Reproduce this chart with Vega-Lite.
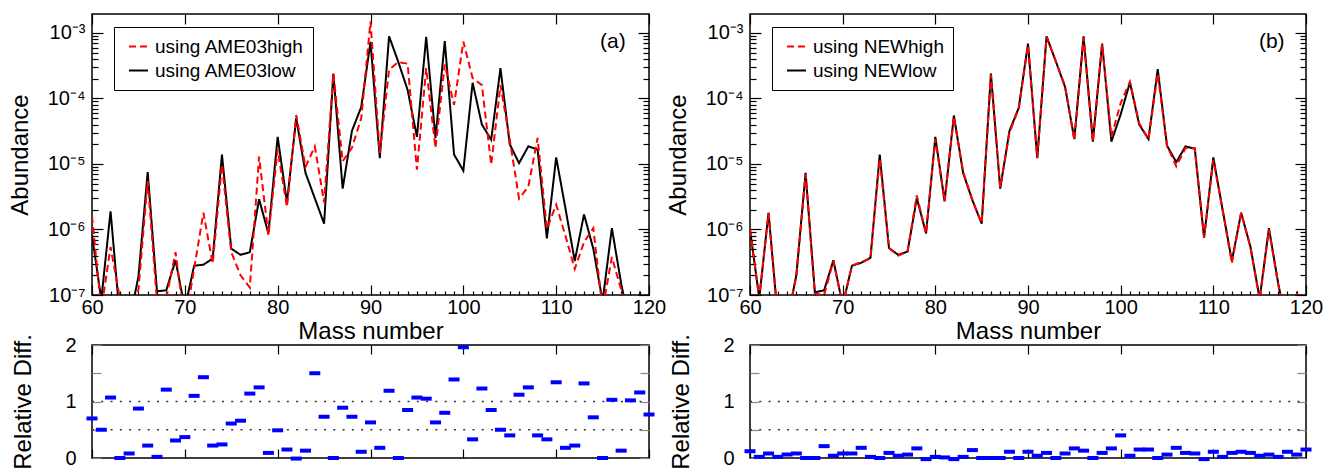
{
  "$schema": "https://vega.github.io/schema/vega-lite/v6.json",
  "background": "white",
  "padding": {"left": 7, "top": 12, "right": 5, "bottom": 0},
  "config": {
    "font": "Liberation Sans",
    "view": {"stroke": "black", "strokeWidth": 1.5},
    "axis": {"domain": false, "grid": false, "labelFont": "Liberation Sans", "titleFont": "Liberation Sans", "labelColor": "black", "titleColor": "black", "titleFontWeight": "normal", "labelFontSize": 20, "titleFontSize": 24, "tickColor": "black", "tickWidth": 1.2, "labelFlush": false, "labelOverlap": false},
    "legend": {"orient": "none", "legendX": 22, "legendY": 13, "strokeColor": "black", "fillColor": "white", "padding": 9, "rowPadding": 3, "symbolType": "stroke", "symbolSize": 361, "symbolStrokeWidth": 2, "symbolOffset": 5, "labelOffset": 6, "labelFontSize": 19, "labelFont": "Liberation Sans", "labelColor": "black", "cornerRadius": 0, "labelLimit": 400}
  },
  "datasets": {
    "a_top": [
      {"A":60,"low":8.2e-7,"high":1.6e-6},{"A":61,"low":8.5e-8,"high":6e-8},{"A":62,"low":1.9e-6,"high":5.4e-7},{"A":63,"low":4.5e-8,"high":9e-8},{"A":64,"low":3.8e-8,"high":4e-8},
      {"A":65,"low":1.9e-7,"high":1.2e-7},{"A":66,"low":7.5e-6,"high":5.5e-6},{"A":67,"low":1.14e-7,"high":8e-8},{"A":68,"low":1.18e-7,"high":9e-8},{"A":69,"low":3.4e-7,"high":4.5e-7},
      {"A":70,"low":6.2e-8,"high":3.6e-8},{"A":71,"low":2.8e-7,"high":2.5e-7},{"A":72,"low":2.9e-7,"high":1.8e-6},{"A":73,"low":3.6e-7,"high":3.0e-7},{"A":74,"low":1.39e-5,"high":9.8e-6},
      {"A":75,"low":5.1e-7,"high":4.5e-7},{"A":76,"low":4.1e-7,"high":2.0e-7},{"A":77,"low":4.5e-7,"high":1.3e-7},{"A":78,"low":2.9e-6,"high":1.3e-5},{"A":79,"low":8.7e-7,"high":8.2e-7},
      {"A":80,"low":2.6e-5,"high":1.66e-5},{"A":81,"low":2.6e-6,"high":2.2e-6},{"A":82,"low":5.0e-5,"high":5.6e-5},{"A":83,"low":7.3e-6,"high":9e-6},{"A":84,"low":3.0e-6,"high":1.86e-5},
      {"A":85,"low":1.23e-6,"high":2.6e-6},{"A":86,"low":2.4e-4,"high":2.4e-4},{"A":87,"low":4.2e-6,"high":1.1e-5},{"A":88,"low":3.2e-5,"high":1.76e-5},{"A":89,"low":7.4e-5,"high":5e-5},
      {"A":90,"low":7.3e-4,"high":1.5e-3},{"A":91,"low":1.23e-5,"high":1.47e-5},{"A":92,"low":8.9e-4,"high":2.75e-4},{"A":93,"low":3.6e-4,"high":3.6e-4},{"A":94,"low":1.35e-4,"high":3.4e-4},
      {"A":95,"low":2.6e-5,"high":8.2e-6},{"A":96,"low":8.7e-4,"high":2.9e-4},{"A":97,"low":2.5e-5,"high":1.76e-5},{"A":98,"low":7.5e-4,"high":3.3e-4},{"A":99,"low":1.4e-5,"high":8e-5},
      {"A":100,"low":7.9e-6,"high":7.4e-4},{"A":101,"low":1.74e-4,"high":2.05e-4},{"A":102,"low":4.0e-5,"high":1.6e-4},{"A":103,"low":2.35e-5,"high":9.8e-6},{"A":104,"low":2.9e-4,"high":1.6e-4},
      {"A":105,"low":2.0e-5,"high":2.35e-5},{"A":106,"low":1.03e-5,"high":2.97e-6},{"A":107,"low":1.86e-5,"high":4.5e-6},{"A":108,"low":1.66e-5,"high":2.5e-5},{"A":109,"low":7.3e-7,"high":1.03e-6},
      {"A":110,"low":1.26e-5,"high":2.4e-6},{"A":111,"low":2.1e-6,"high":8e-7},{"A":112,"low":3.3e-7,"high":2.5e-7},{"A":113,"low":1.7e-6,"high":6.4e-7},{"A":114,"low":5.1e-7,"high":1.05e-6},
      {"A":115,"low":8e-8,"high":6e-8},{"A":116,"low":1.05e-6,"high":3.8e-7},{"A":117,"low":1.5e-7,"high":1.2e-7},{"A":118,"low":3e-8,"high":3e-8},{"A":119,"low":1.02e-7,"high":3e-8},
      {"A":120,"low":3e-8,"high":2e-8}
    ],
    "b_top": [
      {"A":60,"low":1e-6,"high":1e-6},{"A":61,"low":9e-8,"high":9e-8},{"A":62,"low":1.8e-6,"high":1.8e-6},{"A":63,"low":4.5e-8,"high":4.5e-8},{"A":64,"low":3.8e-8,"high":3.8e-8},
      {"A":65,"low":2e-7,"high":2e-7},{"A":66,"low":7.3e-6,"high":7.0e-6},{"A":67,"low":1.1e-7,"high":1.05e-7},{"A":68,"low":1.18e-7,"high":1.0e-7},{"A":69,"low":3.4e-7,"high":3.3e-7},
      {"A":70,"low":7e-8,"high":7e-8},{"A":71,"low":2.8e-7,"high":2.8e-7},{"A":72,"low":3.1e-7,"high":3.2e-7},{"A":73,"low":3.7e-7,"high":3.6e-7},{"A":74,"low":1.39e-5,"high":1.2e-5},
      {"A":75,"low":5.2e-7,"high":5.2e-7},{"A":76,"low":4.1e-7,"high":4.0e-7},{"A":77,"low":4.6e-7,"high":4.6e-7},{"A":78,"low":3.0e-6,"high":3.3e-6},{"A":79,"low":8.7e-7,"high":8.7e-7},
      {"A":80,"low":2.6e-5,"high":2.4e-5},{"A":81,"low":2.7e-6,"high":2.7e-6},{"A":82,"low":5.5e-5,"high":5.3e-5},{"A":83,"low":7.3e-6,"high":7.6e-6},{"A":84,"low":2.8e-6,"high":2.8e-6},
      {"A":85,"low":1.23e-6,"high":1.25e-6},{"A":86,"low":2.4e-4,"high":2.3e-4},{"A":87,"low":4.2e-6,"high":4.4e-6},{"A":88,"low":3.2e-5,"high":3.0e-5},{"A":89,"low":7.2e-5,"high":7.0e-5},
      {"A":90,"low":6.9e-4,"high":6.5e-4},{"A":91,"low":1.23e-5,"high":1.25e-5},{"A":92,"low":8.9e-4,"high":8.7e-4},{"A":93,"low":3.7e-4,"high":3.7e-4},{"A":94,"low":1.5e-4,"high":1.55e-4},
      {"A":95,"low":2.4e-5,"high":2.3e-5},{"A":96,"low":8.9e-4,"high":8.5e-4},{"A":97,"low":2.2e-5,"high":2.2e-5},{"A":98,"low":6.9e-4,"high":6.7e-4},{"A":99,"low":2.2e-5,"high":2.6e-5},
      {"A":100,"low":5.7e-5,"high":8.5e-5},{"A":101,"low":1.76e-4,"high":1.8e-4},{"A":102,"low":4e-5,"high":4.2e-5},{"A":103,"low":2.4e-5,"high":2.4e-5},{"A":104,"low":2.8e-4,"high":2.4e-4},
      {"A":105,"low":1.9e-5,"high":1.9e-5},{"A":106,"low":1.07e-5,"high":9.2e-6},{"A":107,"low":1.86e-5,"high":1.75e-5},{"A":108,"low":1.7e-5,"high":1.75e-5},{"A":109,"low":7.5e-7,"high":7.6e-7},
      {"A":110,"low":1.26e-5,"high":1.15e-5},{"A":111,"low":2e-6,"high":2e-6},{"A":112,"low":3.3e-7,"high":3.1e-7},{"A":113,"low":1.8e-6,"high":1.8e-6},{"A":114,"low":5.5e-7,"high":5.3e-7},
      {"A":115,"low":8.8e-8,"high":8.5e-8},{"A":116,"low":1.05e-6,"high":1.0e-6},{"A":117,"low":1.5e-7,"high":1.45e-7},{"A":118,"low":3e-8,"high":3e-8},{"A":119,"low":1.02e-7,"high":1.0e-7},
      {"A":120,"low":3e-8,"high":3e-8}
    ],
    "a_diff": [
      {"A":60,"d":0.70},{"A":61,"d":0.50},{"A":62,"d":1.07},{"A":63,"d":0.0},{"A":64,"d":0.08},{"A":65,"d":0.875},{"A":66,"d":0.22},{"A":67,"d":0.02},{"A":68,"d":1.21},{"A":69,"d":0.31},
      {"A":70,"d":0.37},{"A":71,"d":1.10},{"A":72,"d":1.43},{"A":73,"d":0.22},{"A":74,"d":0.24},{"A":75,"d":0.61},{"A":76,"d":0.66},{"A":77,"d":1.14},{"A":78,"d":1.25},{"A":79,"d":0.09},
      {"A":80,"d":0.49},{"A":81,"d":0.15},{"A":82,"d":-0.01},{"A":83,"d":0.13},{"A":84,"d":1.50},{"A":85,"d":0.73},{"A":86,"d":0.0},{"A":87,"d":0.89},{"A":88,"d":0.73},{"A":89,"d":0.11},
      {"A":90,"d":0.63},{"A":91,"d":0.18},{"A":92,"d":1.19},{"A":93,"d":0.0},{"A":94,"d":0.85},{"A":95,"d":1.07},{"A":96,"d":1.05},{"A":97,"d":0.63},{"A":98,"d":0.80},{"A":99,"d":1.39},
      {"A":100,"d":1.96},{"A":101,"d":0.33},{"A":102,"d":1.23},{"A":103,"d":0.85},{"A":104,"d":0.50},{"A":105,"d":0.40},{"A":106,"d":1.12},{"A":107,"d":1.25},{"A":108,"d":0.40},{"A":109,"d":0.33},
      {"A":110,"d":1.34},{"A":111,"d":0.18},{"A":112,"d":0.22},{"A":113,"d":1.32},{"A":114,"d":0.72},{"A":115,"d":0.0},{"A":116,"d":1.03},{"A":117,"d":0.13},{"A":118,"d":1.02},{"A":119,"d":1.16},
      {"A":120,"d":0.77}
    ],
    "b_diff": [
      {"A":60,"d":0.12},{"A":61,"d":0.02},{"A":62,"d":0.08},{"A":63,"d":0.02},{"A":64,"d":0.06},{"A":65,"d":0.08},{"A":66,"d":0.0},{"A":67,"d":0.0},{"A":68,"d":0.21},{"A":69,"d":0.04},
      {"A":70,"d":0.08},{"A":71,"d":0.08},{"A":72,"d":0.18},{"A":73,"d":0.02},{"A":74,"d":0.0},{"A":75,"d":0.09},{"A":76,"d":0.04},{"A":77,"d":0.06},{"A":78,"d":0.17},{"A":79,"d":-0.02},
      {"A":80,"d":0.02},{"A":81,"d":0.01},{"A":82,"d":-0.02},{"A":83,"d":0.02},{"A":84,"d":0.14},{"A":85,"d":0.0},{"A":86,"d":0.0},{"A":87,"d":0.0},{"A":88,"d":0.11},{"A":89,"d":0.0},
      {"A":90,"d":0.11},{"A":91,"d":0.04},{"A":92,"d":0.09},{"A":93,"d":0.0},{"A":94,"d":0.08},{"A":95,"d":0.17},{"A":96,"d":0.13},{"A":97,"d":0.0},{"A":98,"d":0.09},{"A":99,"d":0.17},
      {"A":100,"d":0.40},{"A":101,"d":0.04},{"A":102,"d":0.15},{"A":103,"d":0.15},{"A":104,"d":0.0},{"A":105,"d":0.06},{"A":106,"d":0.18},{"A":107,"d":0.09},{"A":108,"d":0.08},{"A":109,"d":-0.02},
      {"A":110,"d":0.11},{"A":111,"d":0.02},{"A":112,"d":0.09},{"A":113,"d":0.11},{"A":114,"d":0.09},{"A":115,"d":0.04},{"A":116,"d":0.06},{"A":117,"d":0.02},{"A":118,"d":0.11},{"A":119,"d":0.06},
      {"A":120,"d":0.15}
    ]
  },
  "bounds": "flush",
  "columns": 2,
  "spacing": {"row": 50, "column": 101},
  "resolve": {"scale": {"x": "independent", "y": "independent", "color": "independent", "strokeDash": "independent"}, "legend": {"color": "independent", "strokeDash": "independent"}},
  "concat": [
    {
      "width": 557, "height": 281,
      "data": {"name": "a_top"},
      "resolve": {"axis": {"x": "independent", "y": "independent"}},
      "layer": [
        {
          "mark": {"type": "line", "clip": true, "strokeWidth": 2},
          "encoding": {
            "x": {"field": "A", "type": "quantitative", "scale": {"domain": [60, 120], "nice": false, "zero": false},
                  "axis": {"orient": "bottom", "values": [60,61,62,63,64,65,66,67,68,69,70,71,72,73,74,75,76,77,78,79,80,81,82,83,84,85,86,87,88,89,90,91,92,93,94,95,96,97,98,99,100,101,102,103,104,105,106,107,108,109,110,111,112,113,114,115,116,117,118,119,120],
                           "tickSize": {"condition": {"test": "datum.value % 10 == 0", "value": -10}, "value": -4},
                           "labelExpr": "datum.value % 10 == 0 ? datum.label : ''",
                           "labelPadding": 12, "title": "Mass number", "titlePadding": -4}},
            "y": {"field": "low", "type": "quantitative", "scale": {"type": "log", "domain": [1e-7, 1.95e-3], "nice": false},
                  "axis": {"orient": "left", "values": [1e-7,2e-7,3e-7,4e-7,5e-7,6e-7,7e-7,8e-7,9e-7,1e-6,2e-6,3e-6,4e-6,5e-6,6e-6,7e-6,8e-6,9e-6,1e-5,2e-5,3e-5,4e-5,5e-5,6e-5,7e-5,8e-5,9e-5,1e-4,2e-4,3e-4,4e-4,5e-4,6e-4,7e-4,8e-4,9e-4,1e-3],
                           "tickSize": {"condition": {"test": "abs(log(datum.value)/LN10 - round(log(datum.value)/LN10)) < 0.001", "value": -11}, "value": -6},
                           "labelExpr": "abs(log(datum.value)/LN10 - round(log(datum.value)/LN10)) < 0.001 ? '10' + '⁻' + ['⁰','¹','²','³','⁴','⁵','⁶','⁷','⁸','⁹'][-round(log(datum.value)/LN10)] : ''",
                           "labelPadding": 18, "title": "Abundance", "titlePadding": 15}},
            "color": {"datum": "using AME03low", "type": "nominal", "scale": {"domain": ["using AME03high", "using AME03low"], "range": ["#ff0000", "#000000"]}, "legend": {"title": null}},
            "strokeDash": {"datum": "using AME03low", "type": "nominal", "scale": {"domain": ["using AME03high", "using AME03low"], "range": [[7, 4], [1, 0]]}, "legend": {"title": null}}
          }
        },
        {
          "mark": {"type": "line", "clip": true, "strokeWidth": 2},
          "encoding": {
            "x": {"field": "A", "type": "quantitative", "axis": {"orient": "top", "values": [60,70,80,90,100,110,120], "tickSize": -10, "labels": false, "title": null}},
            "y": {"field": "high", "type": "quantitative",
                  "axis": {"orient": "right", "values": [1e-7,2e-7,3e-7,4e-7,5e-7,6e-7,7e-7,8e-7,9e-7,1e-6,2e-6,3e-6,4e-6,5e-6,6e-6,7e-6,8e-6,9e-6,1e-5,2e-5,3e-5,4e-5,5e-5,6e-5,7e-5,8e-5,9e-5,1e-4,2e-4,3e-4,4e-4,5e-4,6e-4,7e-4,8e-4,9e-4,1e-3],
                           "tickSize": {"condition": {"test": "abs(log(datum.value)/LN10 - round(log(datum.value)/LN10)) < 0.001", "value": -11}, "value": -6},
                           "labels": false, "title": null}},
            "color": {"datum": "using AME03high", "type": "nominal", "legend": {"title": null}},
            "strokeDash": {"datum": "using AME03high", "type": "nominal", "legend": {"title": null}}
          }
        },
        {
          "data": {"values": [{"t": "(a)"}]},
          "mark": {"type": "text", "fontSize": 21, "font": "Liberation Sans", "color": "black"},
          "encoding": {
            "x": {"datum": 116.1, "type": "quantitative", "axis": null},
            "y": {"datum": 7.2e-4, "type": "quantitative", "axis": null},
            "text": {"field": "t", "type": "nominal"}
          }
        }
      ]
    },
    {
      "width": 556, "height": 281,
      "data": {"name": "b_top"},
      "resolve": {"axis": {"x": "independent", "y": "independent"}},
      "layer": [
        {
          "mark": {"type": "line", "clip": true, "strokeWidth": 2},
          "encoding": {
            "x": {"field": "A", "type": "quantitative", "scale": {"domain": [60, 120], "nice": false, "zero": false},
                  "axis": {"orient": "bottom", "values": [60,61,62,63,64,65,66,67,68,69,70,71,72,73,74,75,76,77,78,79,80,81,82,83,84,85,86,87,88,89,90,91,92,93,94,95,96,97,98,99,100,101,102,103,104,105,106,107,108,109,110,111,112,113,114,115,116,117,118,119,120],
                           "tickSize": {"condition": {"test": "datum.value % 10 == 0", "value": -10}, "value": -4},
                           "labelExpr": "datum.value % 10 == 0 ? datum.label : ''",
                           "labelPadding": 12, "title": "Mass number", "titlePadding": -4}},
            "y": {"field": "low", "type": "quantitative", "scale": {"type": "log", "domain": [1e-7, 1.95e-3], "nice": false},
                  "axis": {"orient": "left", "values": [1e-7,2e-7,3e-7,4e-7,5e-7,6e-7,7e-7,8e-7,9e-7,1e-6,2e-6,3e-6,4e-6,5e-6,6e-6,7e-6,8e-6,9e-6,1e-5,2e-5,3e-5,4e-5,5e-5,6e-5,7e-5,8e-5,9e-5,1e-4,2e-4,3e-4,4e-4,5e-4,6e-4,7e-4,8e-4,9e-4,1e-3],
                           "tickSize": {"condition": {"test": "abs(log(datum.value)/LN10 - round(log(datum.value)/LN10)) < 0.001", "value": -11}, "value": -6},
                           "labelExpr": "abs(log(datum.value)/LN10 - round(log(datum.value)/LN10)) < 0.001 ? '10' + '⁻' + ['⁰','¹','²','³','⁴','⁵','⁶','⁷','⁸','⁹'][-round(log(datum.value)/LN10)] : ''",
                           "labelPadding": 18, "title": "Abundance", "titlePadding": 15}},
            "color": {"datum": "using NEWlow", "type": "nominal", "scale": {"domain": ["using NEWhigh", "using NEWlow"], "range": ["#ff0000", "#000000"]}, "legend": {"title": null}},
            "strokeDash": {"datum": "using NEWlow", "type": "nominal", "scale": {"domain": ["using NEWhigh", "using NEWlow"], "range": [[7, 4], [1, 0]]}, "legend": {"title": null}}
          }
        },
        {
          "mark": {"type": "line", "clip": true, "strokeWidth": 2},
          "encoding": {
            "x": {"field": "A", "type": "quantitative", "axis": {"orient": "top", "values": [60,70,80,90,100,110,120], "tickSize": -10, "labels": false, "title": null}},
            "y": {"field": "high", "type": "quantitative",
                  "axis": {"orient": "right", "values": [1e-7,2e-7,3e-7,4e-7,5e-7,6e-7,7e-7,8e-7,9e-7,1e-6,2e-6,3e-6,4e-6,5e-6,6e-6,7e-6,8e-6,9e-6,1e-5,2e-5,3e-5,4e-5,5e-5,6e-5,7e-5,8e-5,9e-5,1e-4,2e-4,3e-4,4e-4,5e-4,6e-4,7e-4,8e-4,9e-4,1e-3],
                           "tickSize": {"condition": {"test": "abs(log(datum.value)/LN10 - round(log(datum.value)/LN10)) < 0.001", "value": -11}, "value": -6},
                           "labels": false, "title": null}},
            "color": {"datum": "using NEWhigh", "type": "nominal", "legend": {"title": null}},
            "strokeDash": {"datum": "using NEWhigh", "type": "nominal", "legend": {"title": null}}
          }
        },
        {
          "data": {"values": [{"t": "(b)"}]},
          "mark": {"type": "text", "fontSize": 21, "font": "Liberation Sans", "color": "black"},
          "encoding": {
            "x": {"datum": 116.3, "type": "quantitative", "axis": null},
            "y": {"datum": 7.2e-4, "type": "quantitative", "axis": null},
            "text": {"field": "t", "type": "nominal"}
          }
        }
      ]
    },
    {
      "width": 557, "height": 113,
      "resolve": {"axis": {"x": "independent", "y": "independent"}},
      "layer": [
        {
          "data": {"values": [{"g": 0.5}, {"g": 1}]},
          "mark": {"type": "rule", "strokeDash": [2, 7.28], "color": "#333", "strokeWidth": 1.5},
          "encoding": {
            "x": {"datum": 60, "type": "quantitative", "scale": {"domain": [60, 120], "nice": false, "zero": false},
                  "axis": {"orient": "top", "values": [60,70,80,90,100,110,120], "tickSize": -9, "labels": false, "title": null}},
            "x2": {"datum": 120},
            "y": {"field": "g", "type": "quantitative", "scale": {"domain": [0, 2], "nice": false},
                  "axis": {"orient": "left", "values": [0, 0.5, 1, 1.5, 2], "labelExpr": "datum.value % 1 == 0 ? format(datum.value, 'd') : ''", "tickSize": -9, "tickColor": "#888", "labelPadding": 25, "title": "Relative Diff.", "titlePadding": 29}}
          }
        },
        {
          "data": {"name": "a_diff"},
          "mark": {"type": "tick", "orient": "horizontal", "size": 11, "thickness": 4, "color": "#0000ff", "opacity": 1},
          "encoding": {
            "x": {"field": "A", "type": "quantitative", "axis": {"orient": "bottom", "values": [60,70,80,90,100,110,120], "tickSize": -9, "labels": false, "title": null}},
            "y": {"field": "d", "type": "quantitative", "axis": {"orient": "right", "values": [0, 0.5, 1, 1.5, 2], "tickSize": -9, "tickColor": "#888", "labels": false, "title": null}}
          }
        }
      ]
    },
    {
      "width": 556, "height": 113,
      "resolve": {"axis": {"x": "independent", "y": "independent"}},
      "layer": [
        {
          "data": {"values": [{"g": 0.5}, {"g": 1}]},
          "mark": {"type": "rule", "strokeDash": [2, 7.28], "color": "#333", "strokeWidth": 1.5},
          "encoding": {
            "x": {"datum": 60, "type": "quantitative", "scale": {"domain": [60, 120], "nice": false, "zero": false},
                  "axis": {"orient": "top", "values": [60,70,80,90,100,110,120], "tickSize": -9, "labels": false, "title": null}},
            "x2": {"datum": 120},
            "y": {"field": "g", "type": "quantitative", "scale": {"domain": [0, 2], "nice": false},
                  "axis": {"orient": "left", "values": [0, 0.5, 1, 1.5, 2], "labelExpr": "datum.value % 1 == 0 ? format(datum.value, 'd') : ''", "tickSize": -9, "tickColor": "#888", "labelPadding": 25, "title": "Relative Diff.", "titlePadding": 29}}
          }
        },
        {
          "data": {"name": "b_diff"},
          "mark": {"type": "tick", "orient": "horizontal", "size": 11, "thickness": 4, "color": "#0000ff", "opacity": 1},
          "encoding": {
            "x": {"field": "A", "type": "quantitative", "axis": {"orient": "bottom", "values": [60,70,80,90,100,110,120], "tickSize": -9, "labels": false, "title": null}},
            "y": {"field": "d", "type": "quantitative", "axis": {"orient": "right", "values": [0, 0.5, 1, 1.5, 2], "tickSize": -9, "tickColor": "#888", "labels": false, "title": null}}
          }
        }
      ]
    }
  ]
}
